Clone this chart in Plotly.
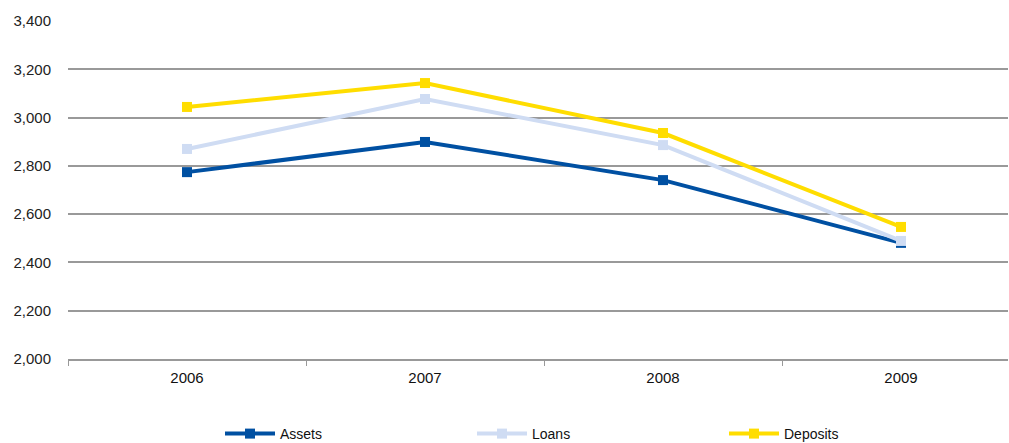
import plotly.graph_objects as go

years = ["2006", "2007", "2008", "2009"]
assets = [2774, 2899, 2741, 2481]
loans = [2870, 3077, 2886, 2489]
deposits = [3044, 3143, 2936, 2547]
y_ticks = [2000, 2200, 2400, 2600, 2800, 3000, 3200, 3400]

series = [
    ("Assets", assets, "#0050A2"),
    ("Loans", loans, "#CFDCF3"),
    ("Deposits", deposits, "#FFDD00"),
]

fig = go.Figure()
for name, vals, color in series:
    fig.add_trace(go.Scatter(
        x=years, y=vals, name=name, mode="lines+markers",
        line=dict(color=color, width=4),
        marker=dict(symbol="square", size=10, color=color),
    ))

fig.update_layout(
    width=1009, height=443,
    margin=dict(l=68, r=1, t=21, b=84, autoexpand=False),
    paper_bgcolor="white", plot_bgcolor="white",
    font=dict(family="Liberation Sans, Arial, sans-serif", size=14, color="#222222"),
    showlegend=True,
    legend=dict(
        orientation="h",
        xref="container", x=220 / 1009, xanchor="left",
        yref="container", y=9 / 443, yanchor="middle",
        itemwidth=50,
        entrywidth=187, entrywidthmode="pixels",
        font=dict(size=14, color="#111111"),
    ),
)

# each category slot is 238 px wide; the last slot runs past the right edge
slot_px = 238
x_start = -0.5
fig.update_xaxes(
    type="category", tickson="boundaries",
    ticks="outside", ticklen=5, tickcolor="#999999", tickwidth=1,
    ticklabelstandoff=4,
    showline=True, linecolor="#999999", linewidth=2,
    showgrid=False, zeroline=False,
    tickfont=dict(size=15, color="#111111"),
    range=[x_start, x_start + 940 / slot_px],
)

fig.update_yaxes(
    range=[2000, 3400], tickvals=y_ticks,
    tickformat=",d",
    showgrid=True, gridcolor="#999999", gridwidth=2,
    showline=False, zeroline=False,
    ticks="outside", ticklen=13, tickcolor="rgba(0,0,0,0)",
    tickfont=dict(size=15, color="#222222"),
)

fig.write_html("out.html")
